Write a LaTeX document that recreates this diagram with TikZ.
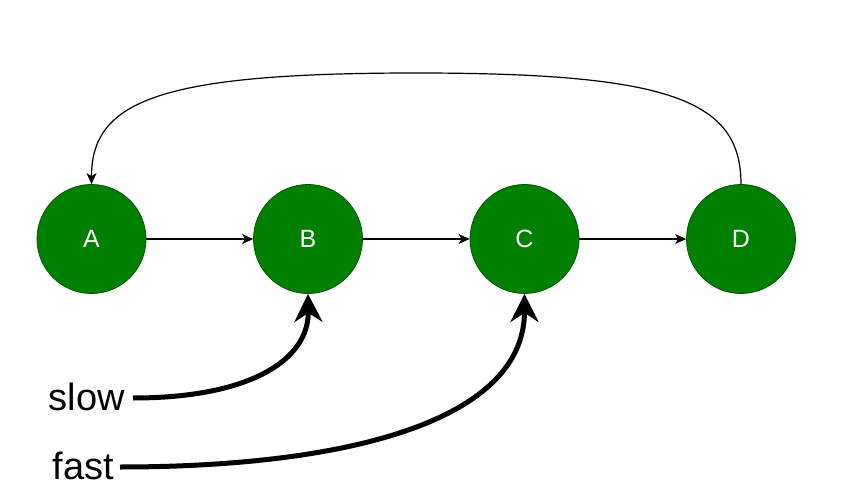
\documentclass[tikz,border=0pt]{standalone}
\usepackage{fontspec}
\setmainfont{Liberation Sans}
\usetikzlibrary{arrows.meta}
\definecolor{nodegreen}{HTML}{008000}
\definecolor{nodeborder}{HTML}{005700}
\begin{document}
\begin{tikzpicture}[x=1pt,y=-1pt,
  vertex/.style={circle,fill=nodegreen,draw=nodeborder,line width=0.8pt,minimum size=109pt,inner sep=0pt,text=white,font=\fontsize{25}{29}\selectfont},
  thinarrow/.style={line width=1.2pt,-{Stealth[length=11pt,width=10pt,inset=3pt]}},
  thickarrow/.style={line width=5pt,-{Stealth[length=28pt,width=28pt,inset=9pt]}},
  label/.style={font=\fontsize{38}{44}\selectfont,inner sep=0pt}]
\useasboundingbox (0,0) rectangle (853,502);
\node[vertex] (A) at (91.5,239) {A};
\node[vertex] (B) at (308,239) {B};
\node[vertex] (C) at (524.5,239) {C};
\node[vertex] (D) at (741,239) {D};
\draw[thinarrow] (A) -- (B);
\draw[thinarrow] (B) -- (C);
\draw[thinarrow] (C) -- (D);
\draw[thinarrow] (D.north) .. controls (741,100) and (670,73) .. (416,73)
  .. controls (162,73) and (91.5,100) .. (A.north);
\node[label,anchor=base east] (slow) at (125,410) {slow};
\node[label,anchor=base east] (fast) at (114,479) {fast};
\coordinate (slowstart) at (133,398);
\coordinate (faststart) at (120,467);
\draw[thickarrow] (slowstart) .. controls (250,398) and (309,360) .. (B.south);
\draw[thickarrow] (faststart) .. controls (350,467) and (524.5,420) .. (C.south);
\end{tikzpicture}
\end{document}
